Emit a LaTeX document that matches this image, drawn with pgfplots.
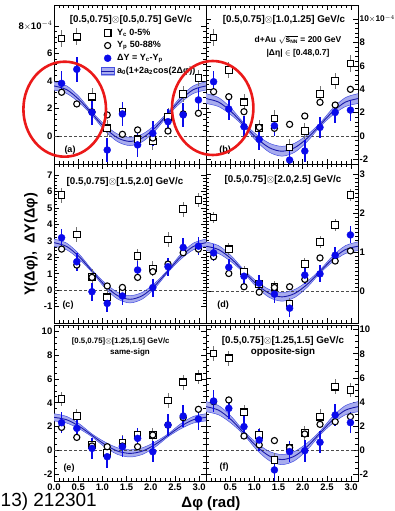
\documentclass[border=0pt]{standalone}
\usepackage{pgfplots}
\pgfplotsset{compat=1.18}
\usepackage{pgfplotstable}
\usepgfplotslibrary{fillbetween}
\usepackage{fontspec}
\setmainfont{Liberation Sans}

\definecolor{bandfill}{RGB}{168,172,238}
\definecolor{bandline}{RGB}{70,80,225}
\definecolor{ctrline}{RGB}{25,25,170}
\definecolor{dotblue}{RGB}{10,10,235}
\definecolor{ellred}{RGB}{235,25,25}

% fit curves a0(1+2a2cos(2dphi)): centre, upper, lower for panels a-f
\pgfplotstableread{
x aC aU aL bC bU bL cC cU cL dC dU dL eC eU eL fC fU fL
0.0000 3.640 3.940 3.340 3.200 3.620 2.780 2.890 3.110 2.670 1.150 1.260 1.040 2.780 3.080 2.480 3.600 4.020 3.180
0.2618 3.370 3.646 3.094 2.899 3.283 2.515 2.660 2.861 2.459 1.063 1.164 0.962 2.578 2.854 2.302 3.305 3.689 2.921
0.5236 2.630 2.840 2.420 2.075 2.360 1.790 2.030 2.180 1.880 0.825 0.900 0.750 2.025 2.235 1.815 2.500 2.785 2.215
0.7854 1.620 1.740 1.500 0.950 1.100 0.800 1.170 1.250 1.090 0.500 0.540 0.460 1.270 1.390 1.150 1.400 1.550 1.250
1.0472 0.610 0.820 0.400 -0.175 0.110 -0.460 0.310 0.460 0.160 0.175 0.250 0.100 0.515 0.725 0.305 0.300 0.585 0.015
1.3090 -0.129 0.147 -0.405 -0.999 -0.615 -1.383 -0.320 -0.119 -0.521 -0.063 0.038 -0.164 -0.038 0.238 -0.314 -0.505 -0.121 -0.889
1.5708 -0.400 -0.100 -0.700 -1.300 -0.880 -1.720 -0.550 -0.330 -0.770 -0.150 -0.040 -0.260 -0.240 0.060 -0.540 -0.800 -0.380 -1.220
1.8326 -0.129 0.147 -0.405 -0.999 -0.615 -1.383 -0.320 -0.119 -0.521 -0.063 0.038 -0.164 -0.038 0.238 -0.314 -0.505 -0.121 -0.889
2.0944 0.610 0.820 0.400 -0.175 0.110 -0.460 0.310 0.460 0.160 0.175 0.250 0.100 0.515 0.725 0.305 0.300 0.585 0.015
2.3562 1.620 1.740 1.500 0.950 1.100 0.800 1.170 1.250 1.090 0.500 0.540 0.460 1.270 1.390 1.150 1.400 1.550 1.250
2.6180 2.630 2.840 2.420 2.075 2.360 1.790 2.030 2.180 1.880 0.825 0.900 0.750 2.025 2.235 1.815 2.500 2.785 2.215
2.8798 3.370 3.646 3.094 2.899 3.283 2.515 2.660 2.861 2.459 1.063 1.164 0.962 2.578 2.854 2.302 3.305 3.689 2.921
3.1416 3.640 3.940 3.340 3.200 3.620 2.780 2.890 3.110 2.670 1.150 1.260 1.040 2.780 3.080 2.480 3.600 4.020 3.180
}\curves

\pgfplotstableread{
x sq sqe ci cie dy dye
0.157 7.10 0.6 3.18 0.2 3.83 0.9
0.471 7.22 0.6 2.33 0.2 4.85 0.9
0.785 2.86 0.6 1.75 0.2 1.72 0.9
1.100 0.56 0.6 1.53 0.2 -1.02 0.9
1.414 1.77 0.6 0.12 0.2 1.60 0.9
1.728 -0.24 0.6 0.44 0.2 -0.65 0.9
2.042 -0.41 0.6 -0.15 0.2 0.19 0.9
2.356 1.40 0.6 0.36 0.2 1.04 0.9
2.670 3.05 0.6 1.60 0.2 1.53 0.9
2.985 4.20 0.6 1.65 0.2 2.62 0.9
}\dataA
\pgfplotstableread{
x sq sqe ci cie dy dye
0.157 8.43 0.7 3.79 0.25 4.64 0.9
0.471 5.64 0.7 3.36 0.25 2.31 0.9
0.785 2.88 0.7 2.08 0.25 0.80 0.9
1.100 0.70 0.7 0.74 0.25 -0.28 0.9
1.414 1.51 0.7 0.66 0.25 0.88 0.9
1.728 -0.97 0.7 1.00 0.25 -2.05 0.9
2.042 0.43 0.7 1.71 0.25 -1.28 0.9
2.356 3.59 0.7 2.88 0.25 0.74 0.9
2.670 4.70 0.7 2.65 0.25 2.02 0.9
2.985 6.21 0.7 3.99 0.25 2.22 0.9
}\dataB
\pgfplotstableread{
x sq sqe ci cie dy dye
0.157 5.78 0.45 2.50 0.15 3.19 0.55
0.471 3.39 0.45 1.53 0.15 1.73 0.55
0.785 0.82 0.45 0.78 0.15 -0.09 0.55
1.100 -0.43 0.45 0.26 0.15 -0.80 0.55
1.414 -0.10 0.45 0.17 0.15 -0.35 0.55
1.728 2.08 0.45 0.78 0.15 1.23 0.55
2.042 1.33 0.45 1.13 0.15 0.16 0.55
2.356 3.09 0.45 1.59 0.15 1.43 0.55
2.670 4.93 0.45 2.28 0.15 2.60 0.55
2.985 5.48 0.45 2.50 0.15 2.68 0.55
}\dataC
\pgfplotstableread{
x sq sqe ci cie dy dye
0.157 1.89 0.15 0.88 0.05 0.98 0.22
0.471 1.07 0.15 0.45 0.05 0.61 0.22
0.785 0.50 0.15 0.11 0.05 0.38 0.22
1.100 0.18 0.15 -0.03 0.05 0.20 0.22
1.414 0.11 0.15 0.09 0.05 -0.08 0.22
1.728 -0.32 0.15 0.11 0.05 -0.44 0.22
2.042 0.69 0.15 0.30 0.05 0.41 0.22
2.356 1.26 0.15 0.85 0.05 0.44 0.22
2.670 1.69 0.15 0.77 0.05 0.92 0.22
2.985 2.46 0.15 1.03 0.05 1.44 0.22
}\dataD
\pgfplotstableread{
x sq sqe ci cie dy dye
0.157 4.32 0.6 1.94 0.25 2.33 0.9
0.471 2.89 0.6 1.10 0.25 1.86 0.9
0.785 0.46 0.6 0.38 0.25 0.18 0.9
1.100 -0.18 0.6 0.32 0.25 -0.52 0.9
1.414 0.66 0.6 0.38 0.25 0.32 0.9
1.728 1.30 0.6 0.32 0.25 1.02 0.9
2.042 1.30 0.6 1.30 0.25 -0.10 0.9
2.356 4.18 0.6 2.14 0.25 2.14 0.9
2.670 5.71 0.6 2.75 0.25 2.89 0.9
2.985 6.13 0.6 3.45 0.25 2.64 0.9
}\dataE
\pgfplotstableread{
x sq sqe ci cie dy dye
0.157 8.03 0.6 4.02 0.25 4.07 0.9
0.471 7.62 0.6 4.16 0.25 3.46 0.9
0.785 3.13 0.6 1.16 0.25 1.94 0.9
1.100 1.25 0.6 0.42 0.25 0.83 0.9
1.414 -0.83 0.6 0.78 0.25 -1.66 0.9
1.728 0.14 0.6 0.19 0.25 -0.14 0.9
2.042 1.39 0.6 1.33 0.25 -0.06 0.9
2.356 2.77 0.6 2.13 0.25 0.64 0.9
2.670 5.26 0.6 2.35 0.25 2.91 0.9
2.985 4.99 0.6 2.77 0.25 2.27 0.9
}\dataF

\pgfplotsset{
  sqstyle/.style={only marks, mark=square*, mark size=3.3pt, black,
    mark options={line width=1.1pt, fill=white, draw=black},
    error bars/.cd, y dir=both, y explicit, error mark=none,
    error bar style={line width=0.9pt, black!55}},
  cistyle/.style={only marks, mark=*, mark size=3.1pt, black,
    mark options={line width=1.1pt, fill=white, draw=black},
    error bars/.cd, y dir=both, y explicit, error mark=none,
    error bar style={line width=0.9pt, black!55}},
  dystyle/.style={only marks, mark=*, mark size=3.5pt, dotblue,
    mark options={fill=dotblue, draw=dotblue},
    error bars/.cd, y dir=both, y explicit, error mark=none,
    error bar style={line width=1.5pt, dotblue}},
  panel/.style={
    scale only axis, width=152pt, anchor=south west,
    xmin=0, xmax=3.1416,
    axis line style={line width=0.8pt, black},
    tick align=inside, tick pos=both,
    xtick={0,0.5,1,1.5,2,2.5,3}, minor x tick num=4,
    major tick length=5pt, minor tick length=2.6pt,
    tick style={black, line width=0.6pt},
    tick label style={font=\fontsize{9.5}{10}\selectfont\bfseries},
    xticklabels={},
    yticklabel style={inner xsep=1.5pt},
    xticklabel style={inner ysep=2.5pt},
  },
}

\newcommand{\drawpanel}[4]{%
  \addplot[forget plot, black!70, densely dashed, line width=0.5pt] coordinates {(0,0) (3.1416,0)};
  \addplot[forget plot, draw=none, name path=up, smooth] table[x=x,y=#3]{\curves};
  \addplot[forget plot, draw=none, name path=lo, smooth] table[x=x,y=#4]{\curves};
  \addplot[forget plot, bandfill] fill between[of=up and lo];
  \addplot[forget plot, bandline, line width=0.5pt, smooth] table[x=x,y=#3]{\curves};
  \addplot[forget plot, bandline, line width=0.5pt, smooth] table[x=x,y=#4]{\curves};
  \addplot[forget plot, ctrline, line width=0.9pt, smooth] table[x=x,y=#2]{\curves};
  \addplot[forget plot, sqstyle] table[x=x,y=sq,y error=sqe]{#1};
  \addplot[forget plot, cistyle] table[x=x,y=ci,y error=cie]{#1};
  \addplot[forget plot, dystyle] table[x=x,y=dy,y error=dye]{#1};
}

\newcommand{\tfont}{\fontsize{9.8}{11}\selectfont\bfseries}

\begin{document}
\begin{tikzpicture}

% (a)
\begin{axis}[panel, at={(54pt,347pt)}, height=159pt, ymin=-2.04, ymax=9.53,
  ytick={0,2,4,6,8}, yticklabels={0,2,4,6,{8$\times$10$^{-4}$}}, minor y tick num=4,
  legend image code/.code={\draw[mark repeat=2,mark phase=2,#1] plot coordinates {(0pt,0pt) (6.5pt,0pt) (13pt,0pt)};},
  legend style={at={(rel axis cs:0.306,0.866)}, anchor=north west, draw=none, fill=none,
    inner sep=0pt, font=\fontsize{9}{10}\selectfont\bfseries, row sep=0pt, cells={anchor=west},
    nodes={inner xsep=0pt, inner ysep=1.9pt, text height=6.6pt, text depth=2.3pt},
    /tikz/every odd column/.append style={column sep=2.5pt}}]
\drawpanel{\dataA}{aC}{aU}{aL}
\addlegendimage{only marks, mark=square*, mark size=3.3pt, black, mark options={line width=1.1pt, fill=white, draw=black}}
\addlegendentry{Y\textsubscript{c} 0-5\%}
\addlegendimage{only marks, mark=*, mark size=3.1pt, black, mark options={line width=1.1pt, fill=white, draw=black}}
\addlegendentry{Y\textsubscript{p} 50-88\%}
\addlegendimage{only marks, mark=*, mark size=3.5pt, dotblue, mark options={fill=dotblue, draw=dotblue}}
\addlegendentry{ΔY = Y\textsubscript{c}-Y\textsubscript{p}}
\addlegendimage{legend image code/.code={\fill[bandfill] (0pt,-3.8pt) rectangle (13pt,3.8pt); \draw[bandline, line width=0.6pt] (0pt,-3.8pt) rectangle (13pt,3.8pt); \draw[ctrline, line width=0.9pt] (0pt,0pt) -- (13pt,0pt);}}
\addlegendentry{a\textsubscript{0}(1+2a\textsubscript{2}cos(2Δφ))}
\end{axis}

% (b)
\begin{axis}[panel, at={(206pt,347pt)}, height=159pt, ymin=-2.39, ymax=11.2,
  yticklabel pos=right,
  ytick={-2,0,2,4,6,8,10}, yticklabels={-2,0,2,4,6,8,{\fontsize{8.3}{9}\selectfont 10$\times$10$^{-4}$}}, minor y tick num=4]
\drawpanel{\dataB}{bC}{bU}{bL}
\end{axis}

% (c)
\begin{axis}[panel, at={(54pt,188pt)}, height=159pt, ymin=-1.99, ymax=7.67,
  ytick={-1,0,1,2,3,4,5,6,7}, yticklabels={-1,0,1,2,3,4,5,6,7}, minor y tick num=4]
\drawpanel{\dataC}{cC}{cU}{cL}
\end{axis}

% (d)
\begin{axis}[panel, at={(206pt,188pt)}, height=159pt, ymin=-0.82, ymax=3.26,
  yticklabel pos=right,
  ytick={0,1,2,3}, yticklabels={0,1,2,3}, minor y tick num=9]
\drawpanel{\dataD}{dC}{dU}{dL}
\end{axis}

% (e)
\begin{axis}[panel, at={(54pt,30pt)}, height=156pt, ymin=-2.55, ymax=10.51,
  ytick={-2,0,2,4,6,8,10}, yticklabels={-2,0,2,4,6,8,10}, minor y tick num=3,
  xticklabels={0.0,0.5,1.0,1.5,2.0,2.5,3.0}]
\drawpanel{\dataE}{eC}{eU}{eL}
\end{axis}

% (f)
\begin{axis}[panel, at={(206pt,30pt)}, height=156pt, ymin=-2.58, ymax=10.39,
  yticklabel pos=right,
  ytick={-2,0,2,4,6,8,10}, yticklabels={-2,0,2,4,6,8,10}, minor y tick num=3,
  xticklabels={,0.5,1.0,1.5,2.0,2.5,3.0}]
\drawpanel{\dataF}{fC}{fU}{fL}
\end{axis}

% panel texts
\node[font=\tfont] at (131pt,491pt) {[0.5,0.75]$\otimes$[0.5,0.75] GeV/c};
\node[font=\tfont] at (284pt,491pt) {[0.5,0.75]$\otimes$[1.0,1.25] GeV/c};
\node[font=\fontsize{8.5}{10}\selectfont\bfseries] at (298pt,471pt) {d+Au $\sqrt{\mbox{s}_{\mbox{\tiny NN}}}$ = 200 GeV};
\node[font=\fontsize{8.5}{10}\selectfont\bfseries] at (298pt,458pt) {|Δη| $\in$ [0.48,0.7]};
\node[font=\tfont] at (125pt,329.5pt) {[0.5,0.75]$\otimes$[1.5,2.0] GeV/c};
\node[font=\tfont] at (283pt,331pt) {[0.5,0.75]$\otimes$[2.0,2.5] GeV/c};
\node[font=\fontsize{7.8}{9}\selectfont\bfseries] at (120.7pt,170pt) {[0.5,0.75]$\otimes$[1.25,1.5] GeV/c};
\node[font=\fontsize{8}{9}\selectfont\bfseries] at (130pt,159pt) {same-sign};
\node[font=\tfont] at (283pt,170pt) {[0.5,0.75]$\otimes$[1.25,1.5] GeV/c};
\node[font=\tfont] at (283pt,159pt) {opposite-sign};

\node[font=\fontsize{9}{10}\selectfont\bfseries] at (70pt,361pt) {(a)};
\node[font=\fontsize{9}{10}\selectfont\bfseries] at (225pt,361pt) {(b)};
\node[font=\fontsize{9}{10}\selectfont\bfseries] at (68pt,206pt) {(c)};
\node[font=\fontsize{9}{10}\selectfont\bfseries] at (223pt,206pt) {(d)};
\node[font=\fontsize{9}{10}\selectfont\bfseries] at (69pt,43pt) {(e)};
\node[font=\fontsize{9}{10}\selectfont\bfseries] at (224pt,44pt) {(f)};

% axis titles
\node[font=\fontsize{14.5}{16}\selectfont\bfseries, rotate=90] at (31pt,266.5pt) {Y(Δφ),\ \ ΔY(Δφ)};
\node[font=\fontsize{15}{16}\selectfont\bfseries, anchor=base] at (211pt,3.5pt) {Δφ (rad)};

% cropped citation text
\node[font=\fontsize{19}{21}\selectfont, anchor=base west, inner sep=0pt] at (0.5pt,4.3pt) {13) 212301};

% red annotation ellipses
\draw[ellred, line width=2.6pt] (64.7pt,401.8pt) ellipse [x radius=41.3pt, y radius=47.5pt];
\draw[ellred, line width=2.6pt] (212.7pt,403pt) ellipse [x radius=40.7pt, y radius=47pt];

\pgfresetboundingbox
\useasboundingbox (0pt,0pt) rectangle (395pt,511pt);
\end{tikzpicture}
\end{document}
